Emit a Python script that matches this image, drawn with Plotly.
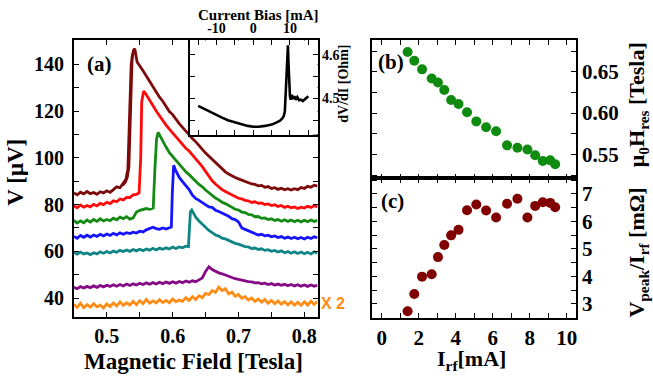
import plotly.graph_objects as go

W, H = 653, 390
SERIF = "Liberation Serif"

# ---------------- Panel (a) data: V vs magnetic field ----------------
B_MAROON = [0.450,0.455,0.460,0.465,0.470,0.475,0.480,0.485,0.490,0.495,0.500,0.505,0.510,0.515,0.520,0.525,
            0.529,0.532,0.534,0.537,0.5405,0.5425,0.546,0.550,
            0.555,0.560,0.565,0.570,0.575,0.580,0.585,0.590,0.595,0.600,0.605,0.610,0.615,0.620,0.625,0.630,0.635,
            0.640,0.645,0.650,0.655,0.660,0.665,0.670,0.675,0.680,0.685,0.690,0.695,0.700,0.705,0.710,0.715,0.720,
            0.725,0.730,0.735,0.740,0.745,0.750,0.755,0.760,0.765,0.770,0.775,0.780,0.785,0.790,0.795,0.800,0.805,
            0.810,0.815,0.820]
V_MAROON = [85.0,84.2,85.3,84.6,85.6,84.7,85.2,84.4,85.5,85.0,85.9,85.2,86.4,87.6,87.2,89.0,
            90.8,95.0,115.0,140.0,146.0,146.7,141.0,139.5,
            137.2,135.0,132.6,130.8,128.0,125.9,124.2,122.0,119.8,118.5,116.4,114.6,113.0,111.3,110.0,108.2,106.9,
            105.0,103.6,102.0,100.6,99.2,97.8,96.4,95.3,94.0,93.1,92.2,91.6,91.0,90.4,90.0,89.3,88.8,
            88.6,88.0,88.2,87.4,87.7,86.9,87.2,86.5,87.0,86.3,86.8,86.2,86.8,86.4,87.3,86.9,87.8,
            87.4,88.3,87.9]

B_MAROON_2 = [0.524, 0.528, 0.531, 0.5335, 0.536, 0.5385, 0.5425]
V_MAROON_2 = [88.2, 89.5, 91.6, 96.0, 120.0, 143.5, 146.5]

B_RED = [0.450,0.455,0.460,0.465,0.470,0.475,0.480,0.485,0.490,0.495,0.500,0.505,0.510,0.515,0.520,0.525,0.530,
         0.535,0.540,0.545,0.549,0.5515,0.553,0.556,0.560,
         0.565,0.570,0.575,0.580,0.585,0.590,0.595,0.600,0.605,0.610,0.615,0.620,0.625,0.630,0.635,0.640,0.645,
         0.650,0.655,0.660,0.665,0.670,0.675,0.680,0.685,0.690,0.695,0.700,0.705,0.710,0.715,0.720,0.725,0.730,
         0.735,0.740,0.745,0.750,0.755,0.760,0.765,0.770,0.775,0.780,0.785,0.790,0.795,0.800,0.805,0.810,0.815,0.820]
V_RED = [79.5,78.6,79.8,78.9,79.6,79.0,80.1,79.4,80.5,80.0,81.0,80.4,81.6,81.2,82.4,82.0,83.1,
         83.0,84.2,84.4,85.0,100.0,124.0,128.6,127.0,
         124.4,122.4,120.0,117.9,116.2,114.0,112.3,110.6,109.1,107.2,105.9,104.1,102.9,101.2,99.8,98.1,96.2,
         94.2,92.0,90.2,88.8,87.5,86.4,85.6,84.8,84.0,83.5,82.7,82.4,81.8,81.6,80.9,81.2,80.5,
         80.7,80.0,80.3,79.6,79.9,79.2,79.6,78.8,79.3,78.6,79.0,78.3,78.9,78.5,79.3,78.8,79.5,79.0]

B_GREEN = [0.450,0.455,0.460,0.465,0.470,0.475,0.480,0.485,0.490,0.495,0.500,0.505,0.510,0.515,0.520,0.525,
           0.530,0.535,0.540,0.545,0.550,0.555,0.560,0.565,0.5705,0.573,0.5755,0.578,0.582,0.585,
           0.590,0.595,0.600,0.605,0.610,0.615,0.620,0.625,0.630,0.635,0.640,0.645,0.650,0.655,0.660,0.665,
           0.670,0.675,0.680,0.685,0.690,0.695,0.700,0.705,0.710,0.715,0.720,0.725,0.730,0.735,0.740,0.745,
           0.750,0.755,0.760,0.765,0.770,0.775,0.780,0.785,0.790,0.795,0.800,0.805,0.810,0.815,0.820]
V_GREEN = [73.2,72.1,73.0,72.2,73.4,72.5,73.6,72.8,73.9,73.0,73.6,73.1,74.2,73.5,74.6,74.0,
           74.8,73.8,74.3,76.8,77.5,77.9,78.3,78.0,78.5,95.0,108.0,110.9,108.6,107.0,
           104.6,102.2,100.6,98.8,97.0,95.6,94.0,92.8,91.2,90.0,88.6,87.6,86.2,85.0,84.0,82.8,
           82.0,81.0,80.4,79.6,78.9,78.0,77.7,76.8,76.6,75.8,75.6,74.8,74.9,74.1,74.3,73.6,
           73.9,73.2,73.6,72.9,73.5,72.8,73.4,72.7,73.3,72.6,73.3,72.7,73.4,72.8,73.2]

B_BLUE = [0.450,0.455,0.460,0.465,0.470,0.475,0.480,0.485,0.490,0.495,0.500,0.505,0.510,0.515,0.520,0.525,
          0.530,0.535,0.540,0.545,0.550,0.555,0.560,0.565,0.570,0.575,0.580,0.585,0.590,0.595,
          0.598,0.5995,0.6015,0.604,0.607,
          0.610,0.615,0.620,0.625,0.630,0.635,0.640,0.645,0.650,0.655,0.660,0.665,0.670,0.675,0.680,0.685,
          0.690,0.695,0.700,0.705,0.710,0.715,0.720,0.725,0.730,0.735,0.740,0.745,0.750,0.755,0.760,0.765,
          0.770,0.775,0.780,0.785,0.790,0.795,0.800,0.805,0.810,0.815,0.820]
V_BLUE = [66.4,65.6,66.8,66.0,66.9,66.1,67.0,66.4,67.3,66.6,67.4,66.8,67.7,67.0,67.9,67.3,
          68.0,67.6,68.2,67.8,68.6,68.3,69.2,69.6,70.3,69.7,69.4,70.0,69.5,70.1,
          70.4,85.0,96.8,95.0,93.0,
          91.6,89.8,88.0,86.4,84.0,82.6,81.8,80.8,80.0,79.0,78.8,77.6,77.0,76.4,75.8,75.0,
          74.0,73.6,72.6,70.0,69.4,68.8,68.2,67.8,67.0,67.3,66.6,66.9,66.2,66.6,65.9,66.3,
          65.6,66.1,65.5,66.0,65.4,65.9,65.3,66.0,65.5,66.2,65.8]

B_TEAL = [0.450,0.455,0.460,0.465,0.470,0.475,0.480,0.485,0.490,0.495,0.500,0.505,0.510,0.515,0.520,0.525,
          0.530,0.535,0.540,0.545,0.550,0.555,0.560,0.565,0.570,0.575,0.580,0.585,0.590,0.595,0.600,0.605,
          0.610,0.615,0.620,0.624,0.6255,0.627,0.629,0.632,0.635,
          0.640,0.645,0.650,0.655,0.660,0.665,0.670,0.675,0.680,0.685,0.690,0.695,0.700,0.705,0.710,0.715,
          0.720,0.725,0.730,0.735,0.740,0.745,0.750,0.755,0.760,0.765,0.770,0.775,0.780,0.785,0.790,0.795,
          0.800,0.805,0.810,0.815,0.820]
V_TEAL = [59.6,58.8,59.7,58.9,59.3,58.6,59.4,58.9,59.8,59.2,59.9,59.3,60.1,59.6,60.4,59.9,
          60.6,60.0,60.8,60.2,60.9,60.3,61.0,60.5,61.3,60.6,61.4,60.9,61.5,61.0,61.8,61.2,
          61.9,61.5,62.2,62.0,70.0,77.0,77.7,76.2,74.6,
          73.0,71.5,70.0,68.9,68.0,67.0,66.5,65.6,65.3,64.6,64.0,63.4,63.1,62.6,62.0,61.9,
          61.2,61.4,60.8,61.1,60.4,60.7,60.0,60.4,59.7,60.2,59.4,59.9,59.2,59.8,59.1,59.7,
          59.0,59.6,58.9,59.8,59.2]

B_GRID = [0.450,0.455,0.460,0.465,0.470,0.475,0.480,0.485,0.490,0.495,0.500,0.505,0.510,0.515,0.520,0.525,
          0.530,0.535,0.540,0.545,0.550,0.555,0.560,0.565,0.570,0.575,0.580,0.585,0.590,0.595,0.600,0.605,
          0.610,0.615,0.620,0.625,0.630,0.635,0.640,0.645,0.650,0.655,0.660,0.665,0.670,0.675,0.680,0.685,
          0.690,0.695,0.700,0.705,0.710,0.715,0.720,0.725,0.730,0.735,0.740,0.745,0.750,0.755,0.760,0.765,
          0.770,0.775,0.780,0.785,0.790,0.795,0.800,0.805,0.810,0.815,0.820]
V_PURPLE = [44.6,44.0,44.9,44.3,45.0,44.4,45.2,44.6,45.4,44.8,45.5,45.0,45.7,45.1,45.8,45.2,
            46.0,45.4,46.1,45.6,46.3,45.8,46.5,45.9,46.6,46.0,46.8,46.2,46.9,46.3,47.0,46.4,
            47.1,46.6,47.3,46.8,47.4,47.0,47.8,48.6,51.4,53.4,52.2,51.4,50.8,50.4,49.8,49.2,
            48.9,48.3,48.0,47.6,47.4,47.0,46.9,46.5,46.6,46.1,46.4,45.8,46.2,45.6,46.0,45.5,
            45.9,45.3,45.8,45.2,45.7,45.1,45.6,45.0,45.6,45.1,45.5]
V_ORANGE = [37.4,36.0,37.8,35.9,37.2,36.1,37.6,36.3,37.0,35.8,37.5,36.4,37.9,36.6,38.4,36.9,
            38.0,37.0,38.6,37.2,38.9,37.6,39.4,37.8,38.8,37.9,39.3,38.1,39.0,38.0,39.6,38.4,
            39.2,38.6,40.2,39.0,40.6,39.4,41.0,40.2,42.0,41.5,43.2,42.4,44.6,43.2,44.0,41.8,
            42.6,40.8,41.5,39.9,40.6,39.2,40.0,38.6,39.6,38.3,39.4,37.8,39.0,37.6,38.8,37.4,
            38.5,37.1,38.4,37.0,38.2,36.9,38.4,37.0,38.6,37.3,38.5]

# ---------------- Inset data: dV/dI vs current bias ----------------
I_BIAS = [-15.0,-12.5,-10.4,-8.5,-6.9,-5.0,-3.2,-1.5,0.0,1.5,3.2,5.0,6.4,7.3,7.9,8.3,8.6,8.8,9.0,9.15,
          9.3,9.45,9.6,9.8,10.0,10.2,10.5,10.8,11.2,11.6,12.0,12.5,13.0,13.5,14.0,14.5,15.0]
DVDI = [4.483,4.472,4.463,4.456,4.450,4.445,4.440,4.437,4.435,4.435,4.437,4.440,4.445,4.449,4.454,4.459,
        4.470,4.510,4.550,4.556,4.590,4.622,4.580,4.530,4.505,4.497,4.508,4.499,4.505,4.497,4.503,4.496,
        4.497,4.494,4.498,4.502,4.505]

# ---------------- Panels (b) and (c) ----------------
I_RF = [1.40,1.76,2.18,2.70,3.04,3.38,3.75,4.15,4.61,5.11,5.64,6.18,6.77,7.33,7.87,8.29,8.70,9.10,9.37]
H_RES = [0.674,0.6635,0.653,0.642,0.637,0.628,0.616,0.611,0.601,0.590,0.583,0.578,0.561,0.558,0.556,
         0.549,0.542,0.543,0.538]
V_OVER_I = [2.73,3.36,3.99,4.08,4.70,5.14,5.49,5.69,6.40,6.61,6.39,6.14,6.64,6.82,6.14,6.56,6.69,6.67,6.51]

SERIES_A = [
    (B_MAROON, V_MAROON, "#7d0a0a"),
    (B_MAROON_2, V_MAROON_2, "#7d0a0a"),
    (B_RED, V_RED, "#ff0a0a"),
    (B_GREEN, V_GREEN, "#138a13"),
    (B_BLUE, V_BLUE, "#1414ff"),
    (B_TEAL, V_TEAL, "#0f8585"),
    (B_GRID, V_PURPLE, "#850a85"),
    (B_GRID, V_ORANGE, "#ff8c14"),
]

fig = go.Figure()
for bx, vy, col in SERIES_A:
    fig.add_trace(go.Scatter(x=bx, y=vy, mode="lines", line=dict(color=col, width=2.8),
                             xaxis="x", yaxis="y", showlegend=False, hoverinfo="skip"))

fig.add_trace(go.Scatter(x=I_BIAS, y=DVDI, mode="lines", line=dict(color="black", width=2.6),
                         xaxis="x2", yaxis="y2", showlegend=False, hoverinfo="skip"))
fig.add_trace(go.Scatter(x=I_RF, y=H_RES, mode="markers", marker=dict(color="#0f8c0f", size=10),
                         xaxis="x3", yaxis="y3", showlegend=False, hoverinfo="skip"))
fig.add_trace(go.Scatter(x=I_RF, y=V_OVER_I, mode="markers", marker=dict(color="#800000", size=10),
                         xaxis="x4", yaxis="y4", showlegend=False, hoverinfo="skip"))


def px2x(px):
    return px / W


def py2y(py):
    return 1 - py / H


def ax(domain, rng, tickvals, ticktext, size, side=None, anchor=None, standoff=0):
    d = dict(domain=domain, range=rng, tickmode="array", tickvals=tickvals, ticktext=ticktext,
             ticks="inside", ticklen=5, tickwidth=1, tickcolor="black",
             showline=True, linecolor="black", linewidth=1.6, mirror="ticks",
             showgrid=False, zeroline=False, fixedrange=True,
             tickfont=dict(family=SERIF, size=size, color="black", weight="bold"),
             ticklabelstandoff=standoff)
    if side:
        d["side"] = side
    if anchor:
        d["anchor"] = anchor
    return d


xa_dom = [px2x(74), px2x(318)]
ya_dom = [py2y(323), py2y(32)]
xi_dom = [px2x(190), px2x(318)]
yi_dom = [py2y(131), py2y(32)]
xb_dom = [px2x(373), px2x(577)]
yb_dom = [py2y(177), py2y(32)]
yc_dom = [py2y(324), py2y(177)]

x_ticks_a = [0.5, 0.55, 0.6, 0.65, 0.7, 0.75, 0.8]
x_text_a = ["0.5", " ", "0.6", " ", "0.7", " ", "0.8"]
y_ticks_a = [40, 50, 60, 70, 80, 90, 100, 110, 120, 130, 140]
y_text_a = ["40", " ", "60", " ", "80", " ", "100", " ", "120", " ", "140"]
x_ticks_i = [-15, -10, -5, 0, 5, 10, 15]
x_text_i = [" ", "-10", " ", "0", " ", "10", " "]
y_ticks_i = [4.45, 4.5, 4.55, 4.6]
y_text_i = [" ", "4.5", " ", "4.6"]
x_ticks_bc = [0, 1, 2, 3, 4, 5, 6, 7, 8, 9, 10]
x_text_b = [" "] * 11
x_text_c = ["0", " ", "2", " ", "4", " ", "6", " ", "8", " ", "10"]
y_ticks_b = [0.525, 0.55, 0.575, 0.6, 0.625, 0.65, 0.675]
y_text_b = [" ", "0.55", " ", "0.60", " ", "0.65", " "]
y_ticks_c = [3, 3.5, 4, 4.5, 5, 5.5, 6, 6.5, 7, 7.5]
y_text_c = ["3", " ", "4", " ", "5", " ", "6", " ", "7", " "]

fig.update_layout(
    width=W, height=H, margin=dict(l=0, r=0, t=0, b=0),
    paper_bgcolor="white", plot_bgcolor="white",
    xaxis=ax(xa_dom, [0.45, 0.82], x_ticks_a, x_text_a, 20, anchor="y", standoff=0),
    yaxis=ax(ya_dom, [31.8, 150.2], y_ticks_a, y_text_a, 20, anchor="x", standoff=4),
    xaxis2=ax(xi_dom, [-17.3, 17.5], x_ticks_i, x_text_i, 14, side="top", anchor="y2", standoff=0),
    yaxis2=ax(yi_dom, [4.417, 4.633], y_ticks_i, y_text_i, 14, side="right", anchor="x2", standoff=0),
    xaxis3=ax(xb_dom, [-0.5, 10.5], x_ticks_bc, x_text_b, 20, anchor="y3"),
    yaxis3=ax(yb_dom, [0.521, 0.688], y_ticks_b, y_text_b, 21, side="right", anchor="x3", standoff=0),
    xaxis4=ax(xb_dom, [-0.5, 10.5], x_ticks_bc, x_text_c, 21, anchor="y4", standoff=0),
    yaxis4=ax(yc_dom, [2.48, 7.56], y_ticks_c, y_text_c, 21, side="right", anchor="x4", standoff=0),
)

ANN = [
    ("V [μV]", 16, 170, 23, -90, "black", SERIF),
    ("Magnetic Field [Tesla]", 194, 369, 23, 0, "black", SERIF),
    ("I<sub>rf</sub>[mA]", 472, 368, 22, 0, "black", SERIF),
    ("μ<sub>0</sub>H<sub>res</sub> [Tesla]", 639, 100, 22, -90, "black", SERIF),
    ("V<sub>peak</sub>/I<sub>rf</sub> [mΩ]", 639, 255, 22, -90, "black", SERIF),
    ("Current Bias [mA]", 259, 5, 15, 0, "black", SERIF),
    ("dV/dI [Ohm]", 344, 77, 14, -90, "black", SERIF),
    ("(a)", 100, 57, 21, 0, "black", SERIF),
    ("(b)", 392, 55, 21, 0, "black", SERIF),
    ("(c)", 393, 201, 21, 0, "black", SERIF),
    ("X 2", 334, 309, 16, 0, "#ff8c14", "Liberation Sans"),
]
for txt, x, y, size, ang, col, fam in ANN:
    fig.add_annotation(text=txt, x=px2x(x), y=py2y(y), xref="paper", yref="paper",
                       xanchor="center", yanchor="middle", showarrow=False, textangle=ang,
                       font=dict(family=fam, size=size, color=col, weight="bold"))

fig.write_html("out.html", config={"displayModeBar": False},
               post_script="document.body.style.margin='0px';")
